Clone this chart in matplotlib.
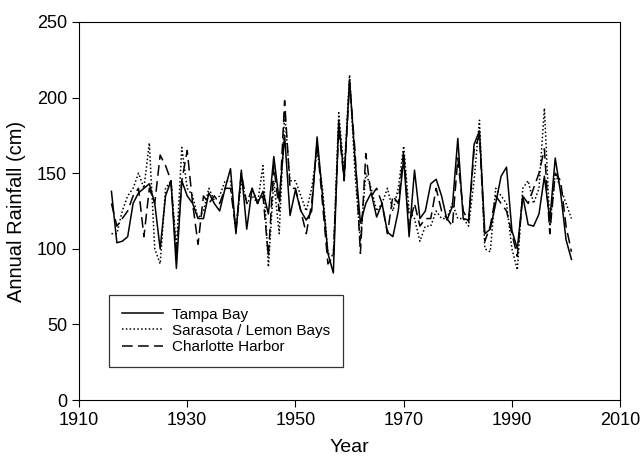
import numpy as np
import matplotlib
matplotlib.use("Agg")
import matplotlib.pyplot as plt

# annual rainfall (cm)
years = list(range(1916, 2002))

tampa = [138, 104, 105, 108, 130, 137, 140, 143, 130, 100,
         135, 145, 87, 145, 135, 130, 120, 120, 137, 130,
         125, 140, 153, 110, 152, 113, 140, 130, 138, 123,
         161, 132, 175, 122, 139, 125, 119, 125, 174, 135,
         97, 84, 185, 146, 212, 160, 117, 130, 137, 121,
         130, 111, 108, 125, 160, 108, 152, 120, 125, 143,
         146, 135, 119, 128, 173, 120, 119, 169, 178, 110,
         113, 130, 148, 154, 112, 100, 135, 116, 115, 123,
         148, 119, 160, 137, 106, 93]

sarasota = [110, 110, 125, 135, 140, 150, 140, 170, 100, 90,
            140, 145, 100, 167, 140, 135, 120, 125, 140, 132,
            135, 145, 145, 112, 145, 130, 135, 130, 155, 88,
            145, 110, 190, 145, 145, 135, 125, 140, 165, 140,
            97, 95, 190, 150, 215, 150, 105, 150, 140, 125,
            130, 140, 125, 140, 168, 125, 120, 105, 115, 115,
            125, 120, 120, 130, 120, 120, 115, 145, 185, 100,
            98, 140, 135, 130, 100, 86, 140, 145, 130, 140,
            193, 115, 150, 140, 130, 120]

charlotte = [130, 115, 120, 125, 135, 140, 108, 140, 130, 162,
             155, 145, 95, 145, 165, 130, 103, 135, 130, 135,
             130, 140, 140, 112, 150, 130, 140, 130, 135, 95,
             155, 125, 198, 140, 140, 125, 110, 130, 170, 130,
             90, 95, 180, 145, 210, 165, 97, 163, 135, 140,
             130, 110, 135, 130, 165, 115, 130, 115, 120, 120,
             140, 125, 120, 115, 160, 125, 118, 165, 175, 105,
             115, 135, 130, 125, 110, 95, 135, 130, 140, 150,
             166, 110, 150, 145, 115, 98]

plt.rcParams['font.family'] = ['Liberation Sans', 'DejaVu Sans']

fig = plt.figure(figsize=(6.4, 4.61), dpi=100)
ax = fig.add_axes([0.1234, 0.1323, 0.8456, 0.8200])

ax.plot(years, tampa, color='black', lw=1.1, ls='-', label='Tampa Bay')
ax.plot(years, sarasota, color='black', lw=1.1, ls=(0, (1, 1.5)),
        label='Sarasota / Lemon Bays')
ax.plot(years, charlotte, color='black', lw=1.1, ls=(0, (7, 3.5)),
        label='Charlotte Harbor')

ax.set_xlim(1910, 2010)
ax.set_ylim(0, 250)
ax.set_xticks(range(1910, 2011, 20))
ax.set_yticks(range(0, 251, 50))
ax.tick_params(direction='out', length=5, labelsize=13, top=False, right=False)
ax.set_xlabel('Year', fontsize=14, labelpad=7)
ax.set_ylabel('Annual Rainfall (cm)', fontsize=14.5, labelpad=8)

leg = ax.legend(loc='lower left', bbox_to_anchor=(0.055, 0.087),
                fontsize=11, frameon=True, fancybox=False, handlelength=2.7,
                handletextpad=0.6, borderpad=0.85, labelspacing=0.15,
                borderaxespad=0)
leg.get_frame().set_edgecolor('black')
leg.get_frame().set_linewidth(0.9)

fig.savefig('out.png', dpi=100)
